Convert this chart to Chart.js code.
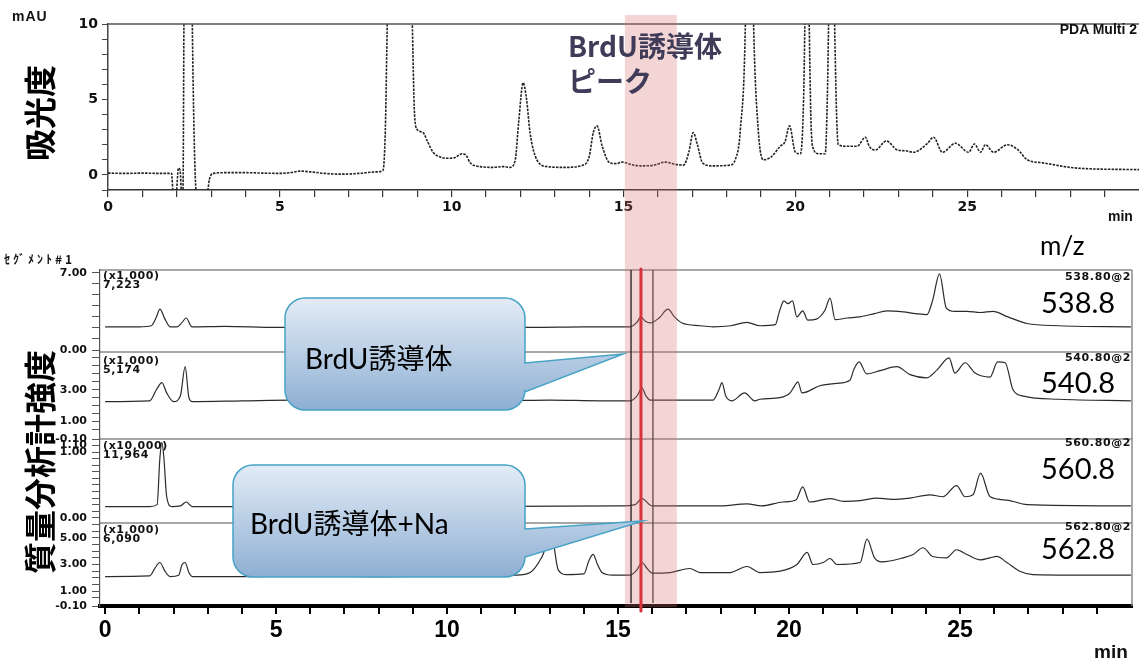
<!DOCTYPE html>
<html lang="ja">
<head>
<meta charset="utf-8">
<title>BrdU誘導体 クロマトグラム</title>
<script src="https://cdn.jsdelivr.net/npm/chart.js@4.4.1/dist/chart.umd.min.js"></script>
<style>
  html, body { margin: 0; padding: 0; background: #fff; }
  #page { position: relative; width: 1139px; height: 661px; overflow: hidden; background: #fff; }
  #uvBox { position: absolute; left: 0; top: 0; width: 1139px; height: 220px; }
  #msBox { position: absolute; left: 0; top: 220px; width: 1139px; height: 441px; }
  .lbl { position: absolute; white-space: nowrap; line-height: 1; z-index: 5; color: #111; }
  .tiny { font: bold 11px "DejaVu Sans", sans-serif; letter-spacing: 0.6px; }
  .mz { font: 29px "Lato", "Noto Sans", sans-serif; color: #000; }
  .vert { font: bold 32px "Noto Sans CJK JP", sans-serif; color: #000; transform: translate(-50%, -50%) rotate(-90deg); }
  .bubble { font: 28px "Lato", "Noto Sans CJK JP", sans-serif; color: #000; }
</style>
</head>
<body>
<div id="page">
  <div id="uvBox"><canvas id="uvChart"></canvas></div>
  <div id="msBox"><canvas id="msChart"></canvas></div>

  <!-- top chart texts -->
  <div class="lbl" style="left:12px; top:8px; font:bold 14px 'Liberation Sans',sans-serif; letter-spacing:1px;">mAU</div>
  <div class="lbl" style="right:2px; top:21px; font:bold 14px 'Liberation Sans',sans-serif;">PDA Multi 2</div>
  <div class="lbl vert" style="left:38px; top:113px;">吸光度</div>
  <div class="lbl" style="left:568px; top:28px; font:bold 28px 'Noto Sans CJK JP',sans-serif; line-height:35px; color:#3f3b58;">BrdU誘導体<br>ピーク</div>
  <div class="lbl" style="left:1108px; top:208px; font:bold 14px 'Liberation Sans',sans-serif;">min</div>

  <!-- bottom chart texts -->
  <div class="lbl" style="left:4px; top:253px; font:bold 12px 'Noto Sans CJK JP',sans-serif; letter-spacing:3px; line-height:12px;">ｾｸﾞﾒﾝﾄ#1</div>
  <div class="lbl vert" style="left:38px; top:462px;">質量分析計強度</div>
  <div class="lbl" style="left:1040px; top:229px; font:26px 'Lato','Noto Sans',sans-serif; color:#000;">m/z</div>

  <div class="lbl tiny" style="left:103px; top:269px;">(x1,000)</div>
  <div class="lbl tiny" style="left:103px; top:278px;">7,223</div>
  <div class="lbl tiny" style="left:103px; top:354px;">(x1,000)</div>
  <div class="lbl tiny" style="left:103px; top:363px;">5,174</div>
  <div class="lbl tiny" style="left:103px; top:439px;">(x10,000)</div>
  <div class="lbl tiny" style="left:103px; top:448px;">11,964</div>
  <div class="lbl tiny" style="left:103px; top:523px;">(x1,000)</div>
  <div class="lbl tiny" style="left:103px; top:532px;">6,090</div>

  <div class="lbl tiny" style="right:8px; top:270px;">538.80@2</div>
  <div class="lbl tiny" style="right:8px; top:351px;">540.80@2</div>
  <div class="lbl tiny" style="right:8px; top:436px;">560.80@2</div>
  <div class="lbl tiny" style="right:8px; top:520px;">562.80@2</div>

  <div class="lbl mz" style="left:1041px; top:284px;">538.8</div>
  <div class="lbl mz" style="left:1041px; top:364px;">540.8</div>
  <div class="lbl mz" style="left:1041px; top:450px;">560.8</div>
  <div class="lbl mz" style="left:1041px; top:530px;">562.8</div>

  <div class="lbl bubble" style="left:305px; top:337px;">BrdU誘導体</div>
  <div class="lbl bubble" style="left:250px; top:502px;">BrdU誘導体+Na</div>

  <div class="lbl" style="left:1094px; top:641px; font:bold 19px 'Liberation Sans',sans-serif;">min</div>
</div>

<script>
// --- 1. Data: [time (min), value] ---

// UV trace (PDA Multi 2, mAU)
const uvTrace = [
  [0, 0.12], [0.5, 0.1], [1.0, 0.12], [1.5, 0.1], [1.85, 0.1], [1.9, -1.3], [1.98, -1.3],
  [2.05, 0.45], [2.1, 0.3], [2.14, -1.3], [2.18, -1.3], [2.21, 10.5], [2.3, 50], [2.45, 10.5],
  [2.58, -1.3], [2.88, -1.3], [2.95, -0.3], [3.05, 0.1], [3.5, 0.15], [4.0, 0.15], [4.5, 0.12],
  [5.0, 0.1], [5.3, 0.15], [5.6, 0.25], [5.9, 0.2], [6.3, 0.1], [6.8, 0.05], [7.3, 0.1],
  [7.8, 0.2], [8.0, 0.3], [8.07, 3], [8.13, 10.5], [8.5, 40], [8.85, 10.5], [8.92, 4],
  [9.0, 3.0], [9.17, 2.8], [9.3, 2.2], [9.46, 1.5], [9.65, 1.2], [9.87, 1.1], [10.1, 1.15],
  [10.3, 1.4], [10.42, 1.3], [10.54, 0.8], [10.83, 0.55], [11.2, 0.5], [11.5, 0.55], [11.7, 0.5],
  [11.85, 1.0], [11.95, 3.5], [12.08, 6.1], [12.18, 5.0], [12.28, 2.8], [12.48, 1.0], [12.78, 0.55],
  [13.3, 0.5], [13.83, 0.65], [14.0, 1.2], [14.12, 2.8], [14.23, 3.25], [14.38, 1.9], [14.6, 0.8],
  [14.8, 0.75], [14.96, 0.85], [15.2, 0.7], [15.5, 0.6], [15.9, 0.65], [16.2, 0.85], [16.5, 0.7],
  [16.75, 0.65], [16.9, 1.5], [17.03, 2.8], [17.15, 2.0], [17.3, 0.8], [17.6, 0.6], [18.1, 0.65],
  [18.25, 1.0], [18.4, 3], [18.55, 10.5], [18.65, 30], [18.78, 10.5], [18.92, 3], [19.07, 1.0],
  [19.3, 1.2], [19.56, 1.9], [19.7, 2.2], [19.83, 3.25], [20.0, 1.5], [20.15, 1.4], [20.24, 5],
  [20.28, 10.5], [20.33, 20], [20.4, 10.5], [20.45, 4], [20.5, 1.9], [20.68, 1.4], [20.87, 1.4],
  [20.93, 5], [20.97, 10.5], [21.05, 25], [21.14, 10.5], [21.2, 4], [21.25, 2.0], [21.5, 1.9],
  [21.8, 1.9], [22.04, 2.5], [22.15, 1.9], [22.33, 1.65], [22.65, 2.25], [22.97, 1.65], [23.2, 1.6],
  [23.44, 1.5], [23.85, 2.1], [24.02, 2.5], [24.28, 1.5], [24.66, 2.1], [25.04, 1.5], [25.21, 2.05],
  [25.39, 1.5], [25.53, 2.0], [25.77, 1.5], [26.17, 2.0], [26.46, 1.7], [26.75, 1.0], [27.2, 0.8],
  [28.2, 0.45], [30, 0.35]
];

// m/z 538.80 (x1,000)
const ms538 = [
  [0, 2.1], [1.0, 2.1], [1.35, 2.2], [1.5, 3.0], [1.6, 3.7], [1.75, 2.8], [1.9, 2.1], [2.1, 2.1],
  [2.25, 2.5], [2.37, 2.9], [2.54, 2.1], [3.5, 2.15], [5, 2.05], [6.5, 2.1], [8, 2.05], [9.5, 2.1],
  [11, 2.15], [12.5, 2.05], [14, 2.1], [15.35, 2.1], [15.55, 2.5], [15.67, 3.0], [15.8, 2.6],
  [15.94, 2.45], [16.2, 2.9], [16.46, 3.7], [16.65, 3.0], [16.87, 2.45], [17.4, 2.2], [17.78, 2.1],
  [18.3, 2.2], [18.77, 2.5], [19.15, 2.2], [19.6, 2.3], [19.72, 3.5], [19.85, 4.45], [19.97, 4.2],
  [20.1, 4.45], [20.23, 3.0], [20.4, 3.55], [20.55, 2.7], [20.8, 2.8], [21.05, 3.6], [21.2, 4.7],
  [21.35, 2.75], [21.7, 2.9], [22.07, 3.0], [22.5, 3.3], [22.86, 3.55], [23.34, 3.45], [23.7, 3.3],
  [24.03, 3.2], [24.2, 4.5], [24.4, 6.9], [24.6, 3.8], [24.85, 3.5], [25.2, 3.5], [25.6, 3.4],
  [25.96, 3.5], [26.4, 3.0], [26.96, 2.4], [27.9, 2.2], [30, 2.1]
];

// m/z 540.80 (x1,000)
const ms540 = [
  [0, 2.25], [1.3, 2.3], [1.5, 3.0], [1.66, 3.45], [1.8, 2.8], [2.0, 2.25], [2.2, 2.6], [2.34, 4.45],
  [2.45, 2.5], [2.55, 2.25], [4, 2.3], [5.5, 2.35], [7, 2.3], [8.5, 2.35], [10, 2.3], [11.5, 2.3],
  [13, 2.35], [14.5, 2.3], [15.35, 2.3], [15.55, 2.6], [15.7, 3.1], [15.82, 2.6], [15.94, 2.35],
  [17, 2.35], [17.78, 2.35], [17.95, 3.0], [18.04, 3.45], [18.15, 2.6], [18.33, 2.3], [18.7, 2.8],
  [19.0, 2.3], [19.15, 2.4], [19.74, 2.5], [20.03, 2.8], [20.15, 3.2], [20.26, 3.5], [20.38, 2.8],
  [20.9, 3.25], [21.4, 3.4], [21.78, 3.6], [21.9, 4.3], [22.05, 4.75], [22.27, 4.0], [22.66, 4.2],
  [23.15, 4.45], [23.54, 3.95], [24.03, 3.75], [24.33, 4.25], [24.68, 5.0], [24.85, 4.05],
  [25.15, 4.7], [25.44, 4.05], [25.88, 3.8], [26.1, 4.75], [26.32, 4.7], [26.55, 3.0], [26.85, 2.6],
  [27.9, 2.4], [30, 2.3]
];

// m/z 560.80 (x10,000)
const ms560 = [
  [0, 0.17], [1.3, 0.17], [1.52, 0.2], [1.6, 0.9], [1.66, 1.15], [1.72, 0.9], [1.8, 0.32],
  [1.95, 0.17], [2.2, 0.18], [2.37, 0.24], [2.55, 0.17], [5, 0.17], [10, 0.17], [15.06, 0.18],
  [15.5, 0.2], [15.7, 0.29], [16.0, 0.18], [18, 0.18], [18.77, 0.21], [19.2, 0.18], [19.82, 0.24],
  [20.2, 0.27], [20.4, 0.47], [20.6, 0.24], [21.2, 0.29], [21.6, 0.25], [22.08, 0.26], [22.57, 0.3],
  [23.0, 0.28], [23.54, 0.3], [24.12, 0.35], [24.5, 0.32], [24.9, 0.49], [25.15, 0.32], [25.38, 0.35],
  [25.6, 0.68], [25.88, 0.32], [26.37, 0.27], [26.96, 0.2], [30, 0.18]
];

// m/z 562.80 (x1,000)
const ms562 = [
  [0, 2.1], [1.3, 2.15], [1.45, 2.7], [1.6, 3.15], [1.75, 2.5], [1.9, 2.1], [2.15, 2.2], [2.25, 3.0],
  [2.34, 3.15], [2.45, 2.4], [2.55, 2.1], [4, 2.1], [6, 2.15], [8, 2.1], [10, 2.15], [12.0, 2.2],
  [12.43, 2.4], [12.78, 3.6], [13.05, 5.2], [13.25, 2.6], [13.5, 2.25], [14.0, 2.3], [14.15, 3.3],
  [14.27, 3.75], [14.4, 3.0], [14.53, 2.4], [14.85, 2.2], [15.35, 2.2], [15.55, 2.6], [15.7, 3.15],
  [15.85, 2.7], [16.0, 2.35], [16.52, 2.4], [17.1, 2.7], [17.4, 2.4], [18.27, 2.4], [18.77, 2.85],
  [19.15, 2.4], [19.74, 2.5], [20.23, 3.0], [20.53, 3.9], [20.7, 3.0], [21.0, 3.15], [21.2, 3.45],
  [21.4, 3.0], [22.08, 3.15], [22.28, 4.9], [22.5, 3.5], [22.72, 3.2], [23.34, 3.5], [23.63, 3.75],
  [23.92, 4.25], [24.2, 3.6], [24.6, 3.5], [24.9, 4.1], [25.2, 3.75], [25.6, 3.35], [25.88, 3.5],
  [26.08, 3.6], [26.37, 3.15], [26.75, 2.5], [27.13, 2.25], [30, 2.2]
];

// Tick labels
const timeTickLabels = [0, 5, 10, 15, 20, 25];
const uvTickLabels = [0, 5, 10];
const p1TickLabels = [0, 7];
const p2TickLabels = [-0.1, 1, 3];
const p3TickLabels = [0, 1, 1.1];
const p4TickLabels = [-0.1, 1, 3, 5];

// Highlight: BrdU derivative peak window
const bandStart = 15.2;
const bandEnd = 16.72;
const peakTime = 15.67;
const markerTimes = [15.38, 16.02];

// --- 2. Helpers ---

function toPoints(trace) {
    return trace.map(p => ({ x: p[0], y: p[1] }));
}

// tick positions every `step` (only marks, labels come from the arrays above)
function tickRange(from, to, step) {
    const out = [];
    for (let v = from; v <= to + 1e-9; v += step) out.push(Math.round(v * 100) / 100);
    return out;
}

function hasLabel(labels, v) {
    return labels.some(l => Math.abs(l - v) < 1e-6);
}

const traceStyle = {
    borderColor: '#2b2b2b',
    borderWidth: 1.2,
    pointRadius: 0,
    cubicInterpolationMode: 'monotone',
    fill: false
};

function panelAxis(min, max, ticks, labels, weight) {
    return {
        type: 'linear',
        position: 'left',
        stack: 'ms',
        stackWeight: weight,
        min: min,
        max: max,
        afterBuildTicks: s => { s.ticks = ticks.map(v => ({ value: v })); },
        afterFit: s => { s.width = 100; },
        ticks: {
            autoSkip: false,
            padding: 5,
            color: '#111',
            font: { family: 'DejaVu Sans', weight: 'bold', size: 11 },
            callback: v => hasLabel(labels, v) ? v.toFixed(2) : ''
        },
        grid: { drawOnChartArea: false, tickLength: 8, color: '#555', lineWidth: 1 },
        border: { color: '#555', width: 1.2 }
    };
}

// --- 3. Mass chromatograms (bottom) ---

function drawCallout(ctx, box, tip) {
    const rad = 20;
    ctx.save();
    ctx.beginPath();
    ctx.moveTo(box.l + rad, box.t);
    ctx.lineTo(box.r - rad, box.t);
    ctx.arcTo(box.r, box.t, box.r, box.t + rad, rad);
    ctx.lineTo(box.r, box.tailTop);
    ctx.lineTo(tip.x, tip.y);
    ctx.lineTo(box.r, box.tailBot);
    ctx.lineTo(box.r, box.b - rad);
    ctx.arcTo(box.r, box.b, box.r - rad, box.b, rad);
    ctx.lineTo(box.l + rad, box.b);
    ctx.arcTo(box.l, box.b, box.l, box.b - rad, rad);
    ctx.lineTo(box.l, box.t + rad);
    ctx.arcTo(box.l, box.t, box.l + rad, box.t, rad);
    ctx.closePath();
    const grad = ctx.createLinearGradient(0, box.t, 0, box.b);
    grad.addColorStop(0, '#e3ecf6');
    grad.addColorStop(1, '#8eafd3');
    ctx.fillStyle = grad;
    ctx.fill();
    ctx.lineWidth = 1.5;
    ctx.strokeStyle = '#46a3c6';
    ctx.stroke();
    ctx.restore();
}

const msDecor = {
    id: 'msDecor',
    afterDatasetsDraw(chart) {
        const ctx = chart.ctx;
        const area = chart.chartArea;
        const x = chart.scales.x;
        ctx.save();
        // panel frames
        ctx.strokeStyle = '#8a8a8a';
        ctx.lineWidth = 1.5;
        ['p1', 'p2', 'p3', 'p4'].forEach(id => {
            const s = chart.scales[id];
            ctx.beginPath();
            ctx.moveTo(area.left, s.top);
            ctx.lineTo(area.right, s.top);
            ctx.stroke();
        });
        ctx.beginPath();
        ctx.moveTo(area.right, area.top);
        ctx.lineTo(area.right, area.bottom);
        ctx.stroke();

        // pink window
        const bx0 = x.getPixelForValue(bandStart);
        const bx1 = x.getPixelForValue(bandEnd);
        ctx.fillStyle = 'rgba(215, 110, 110, 0.29)';
        ctx.fillRect(bx0, 0, bx1 - bx0, area.bottom + 1);

        // marker lines from the printout
        ctx.lineWidth = 1.6;
        ctx.strokeStyle = 'rgba(45, 35, 35, 0.85)';
        ctx.beginPath();
        ctx.moveTo(x.getPixelForValue(markerTimes[0]), area.top);
        ctx.lineTo(x.getPixelForValue(markerTimes[0]), area.bottom - 3);
        ctx.stroke();
        ctx.strokeStyle = 'rgba(95, 70, 60, 0.8)';
        ctx.beginPath();
        ctx.moveTo(x.getPixelForValue(markerTimes[1]), area.top);
        ctx.lineTo(x.getPixelForValue(markerTimes[1]), area.bottom - 3);
        ctx.stroke();

        // red peak line
        const px = x.getPixelForValue(peakTime);
        ctx.strokeStyle = '#d8333d';
        ctx.lineWidth = 3;
        ctx.lineCap = 'round';
        ctx.beginPath();
        ctx.moveTo(px, area.top - 1);
        ctx.lineTo(px, area.bottom + 5);
        ctx.stroke();
        ctx.restore();
    },
    afterDraw(chart) {
        const x = chart.scales.x;
        drawCallout(chart.ctx,
            { l: 285, t: 78, r: 525, b: 190, tailTop: 143, tailBot: 172 },
            { x: x.getPixelForValue(15.15), y: chart.scales.p2.top + 2 });
        drawCallout(chart.ctx,
            { l: 233, t: 245, r: 525, b: 357, tailTop: 309, tailBot: 337 },
            { x: x.getPixelForValue(15.73), y: chart.scales.p3.bottom - 2 });
    }
};

const msChart = new Chart(document.getElementById('msChart'), {
    type: 'line',
    data: {
        datasets: [
            Object.assign({ label: '538.80', data: toPoints(ms538), yAxisID: 'p1' }, traceStyle),
            Object.assign({ label: '540.80', data: toPoints(ms540), yAxisID: 'p2' }, traceStyle),
            Object.assign({ label: '560.80', data: toPoints(ms560), yAxisID: 'p3' }, traceStyle),
            Object.assign({ label: '562.80', data: toPoints(ms562), yAxisID: 'p4' }, traceStyle)
        ]
    },
    options: {
        responsive: true,
        maintainAspectRatio: false,
        animation: false,
        layout: { padding: { top: 50, right: 7, bottom: 0, left: 0 } },
        plugins: { legend: { display: false }, tooltip: { enabled: false } },
        scales: {
            x: {
                type: 'linear',
                min: -0.15,
                max: 30.03,
                afterBuildTicks: s => { s.ticks = tickRange(0, 29, 1).map(v => ({ value: v })); },
                afterFit: s => { s.height = 55; },
                ticks: {
                    autoSkip: false,
                    maxRotation: 0,
                    padding: 3,
                    color: '#000',
                    font: { family: 'Liberation Sans', weight: 'bold', size: 23 },
                    callback: v => timeTickLabels.includes(v) ? String(v) : ''
                },
                grid: { drawOnChartArea: false, tickLength: 8, color: '#000', lineWidth: 2 },
                border: { color: '#000', width: 4 }
            },
            // defined bottom-first: Chart.js stacks the last one at the top
            p4: panelAxis(-0.1, 6.1, [-0.1].concat(tickRange(0.5, 6, 0.5)), p4TickLabels, 83),
            p3: panelAxis(-0.08, 1.2, tickRange(0, 1.1, 0.1), p3TickLabels, 84),
            p2: panelAxis(-0.1, 5.375, [-0.1].concat(tickRange(0.5, 5, 0.5)), p2TickLabels, 87),
            p1: panelAxis(-0.18, 7.25, tickRange(0, 7, 1), p1TickLabels, 82)
        }
    },
    plugins: [msDecor]
});

// --- 4. UV chromatogram (top) ---

const uvDecor = {
    id: 'uvDecor',
    afterDatasetsDraw(chart) {
        const ctx = chart.ctx;
        const area = chart.chartArea;
        ctx.save();
        ctx.strokeStyle = '#555';
        ctx.lineWidth = 1.5;
        ctx.beginPath();
        ctx.moveTo(area.left, area.top);
        ctx.lineTo(area.right, area.top);
        ctx.stroke();
        // same window as the lower chart, so the band runs straight through
        const xs = msChart.scales.x;
        const bx0 = xs.getPixelForValue(bandStart);
        const bx1 = xs.getPixelForValue(bandEnd);
        ctx.fillStyle = 'rgba(215, 110, 110, 0.29)';
        ctx.fillRect(bx0, 15, bx1 - bx0, chart.height - 15);
        ctx.restore();
    }
};

const uvChart = new Chart(document.getElementById('uvChart'), {
    type: 'line',
    data: {
        datasets: [{
            label: 'PDA Multi 2',
            data: toPoints(uvTrace),
            borderColor: '#222',
            borderWidth: 1.6,
            borderDash: [2.5, 1.2],
            pointRadius: 0,
            cubicInterpolationMode: 'monotone',
            fill: false
        }]
    },
    options: {
        responsive: true,
        maintainAspectRatio: false,
        animation: false,
        layout: { padding: { top: 24, right: 0, bottom: 0, left: 0 } },
        plugins: { legend: { display: false }, tooltip: { enabled: false } },
        scales: {
            x: {
                type: 'linear',
                min: 0,
                max: 30,
                afterBuildTicks: s => { s.ticks = tickRange(0, 29, 1).map(v => ({ value: v })); },
                afterFit: s => { s.height = 30; },
                ticks: {
                    autoSkip: false,
                    maxRotation: 0,
                    padding: 2,
                    color: '#111',
                    font: { family: 'DejaVu Sans', weight: 'bold', size: 14 },
                    callback: v => timeTickLabels.includes(v) ? String(v) : ''
                },
                grid: { drawOnChartArea: false, tickLength: 7, color: '#333', lineWidth: 1.2 },
                border: { color: '#333', width: 1.5 }
            },
            y: {
                type: 'linear',
                min: -1,
                max: 10,
                afterBuildTicks: s => { s.ticks = tickRange(-1, 10, 1).map(v => ({ value: v })); },
                afterFit: s => { s.width = 108; },
                ticks: {
                    autoSkip: false,
                    padding: 4,
                    color: '#111',
                    font: { family: 'DejaVu Sans', weight: 'bold', size: 14 },
                    callback: v => uvTickLabels.includes(v) ? String(v) : ''
                },
                grid: { drawOnChartArea: false, tickLength: 6, color: '#444', lineWidth: 1 },
                border: { color: '#444', width: 1.5 }
            }
        }
    },
    plugins: [uvDecor]
});
</script>
</body>
</html>
